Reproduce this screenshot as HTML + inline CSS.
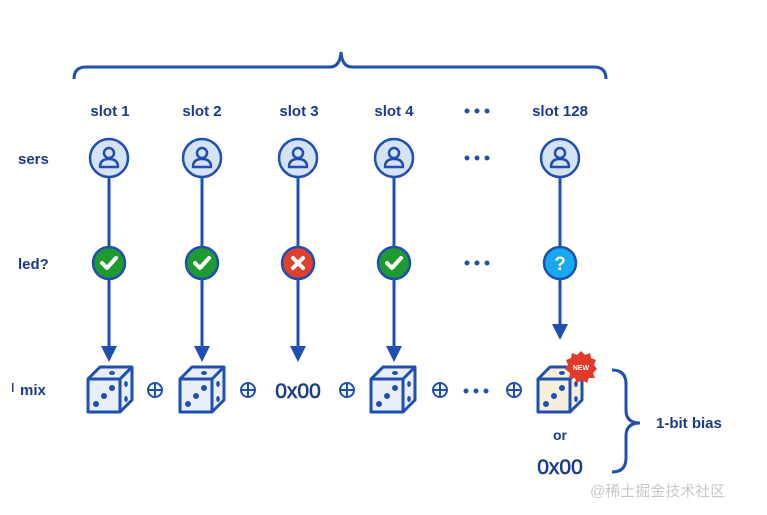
<!DOCTYPE html>
<html><head><meta charset="utf-8"><style>
html,body{margin:0;padding:0;background:#fff;}
svg{display:block;}
text{font-family:"Liberation Sans","Noto Sans CJK SC",sans-serif;fill:#1b3a8c;font-weight:bold;}
</style></head><body>
<svg width="767" height="515" viewBox="0 0 767 515" xmlns="http://www.w3.org/2000/svg">
<defs>
<g id="diebody">
  <path d="M0,10 L32,10 L32,43 L0,43 Z M0,10 L12,-2 L44,-2 L32,10 M32,43 L44,31 L44,-2" fill="none" stroke="#1f4fb0" stroke-width="3" stroke-linejoin="round"/>
  <circle cx="8" cy="35" r="3" fill="#1f4fb0"/><circle cx="16" cy="27" r="3" fill="#1f4fb0"/><circle cx="24" cy="19" r="3" fill="#1f4fb0"/>
  <ellipse cx="24" cy="4" rx="3" ry="2" fill="#1f4fb0"/>
  <ellipse cx="38" cy="15" rx="1.8" ry="3" fill="#1f4fb0"/><ellipse cx="38" cy="30" rx="1.8" ry="3" fill="#1f4fb0"/>
</g>
<g id="die">
  <path d="M0,10 L12,-2 L44,-2 L44,31 L32,43 L0,43 Z" fill="#e8eff9"/>
  <use href="#diebody"/>
</g>
<g id="user">
  <circle r="19" fill="#d6e2f5" stroke="#1f4fb0" stroke-width="2.5"/>
  <circle cx="0" cy="-5" r="5" fill="none" stroke="#1f4fb0" stroke-width="2.5"/>
  <path d="M-9,9 Q-9,1 0,1 Q9,1 9,9 Z" fill="none" stroke="#1f4fb0" stroke-width="2.5" stroke-linejoin="round"/>
</g>
<g id="ok">
  <circle r="16" fill="#1e9a2e" stroke="#1f4fb0" stroke-width="2.5"/>
  <path d="M-7,0 L-2,5 L7,-5" fill="none" stroke="#fff" stroke-width="4" stroke-linecap="round" stroke-linejoin="round"/>
</g>
<g id="plus">
  <circle r="7" fill="none" stroke="#1f4fb0" stroke-width="2"/>
  <path d="M-7,0 H7 M0,-7 V7" stroke="#1f4fb0" stroke-width="2"/>
</g>
</defs>

<path d="M74,79 Q74,67 86,67 L330,67 Q340,67 341,52 Q342,67 352,67 L594,67 Q606,67 606,79" fill="none" stroke="#1f4fb0" stroke-width="3"/>

<g font-size="15" text-anchor="middle">
<text x="110" y="116">slot 1</text>
<text x="202" y="116">slot 2</text>
<text x="299" y="116">slot 3</text>
<text x="394" y="116">slot 4</text>
<text x="560" y="116">slot 128</text>
</g>
<g fill="#1f4fb0">
<circle cx="467" cy="111" r="2.5"/><circle cx="477" cy="111" r="2.5"/><circle cx="487" cy="111" r="2.5"/>
<circle cx="467" cy="158" r="2.5"/><circle cx="477" cy="158" r="2.5"/><circle cx="487" cy="158" r="2.5"/>
<circle cx="467" cy="263" r="2.5"/><circle cx="477" cy="263" r="2.5"/><circle cx="487" cy="263" r="2.5"/>
<circle cx="466" cy="391" r="2.5"/><circle cx="476" cy="391" r="2.5"/><circle cx="486" cy="391" r="2.5"/>
</g>

<text x="18" y="164" font-size="15">sers</text>
<text x="18" y="269" font-size="15">led?</text>
<text x="20" y="395" font-size="15">mix</text>
<rect x="12" y="383" width="1.5" height="9" fill="#1b3a8c"/>

<g stroke="#1f4fb0" stroke-width="3">
<line x1="109" y1="177" x2="109" y2="348"/>
<line x1="202" y1="177" x2="202" y2="348"/>
<line x1="298" y1="177" x2="298" y2="348"/>
<line x1="394" y1="177" x2="394" y2="348"/>
<line x1="560" y1="177" x2="560" y2="325"/>
</g>
<g fill="#1f4fb0">
<path d="M101,346 H117 L109,362 Z"/>
<path d="M194,346 H210 L202,362 Z"/>
<path d="M290,346 H306 L298,362 Z"/>
<path d="M386,346 H402 L394,362 Z"/>
<path d="M552,324 H568 L560,340 Z"/>
</g>

<use href="#user" x="109" y="158"/>
<use href="#user" x="202" y="158"/>
<use href="#user" x="298" y="158"/>
<use href="#user" x="394" y="158"/>
<use href="#user" x="560" y="158"/>

<use href="#ok" x="109" y="263"/>
<use href="#ok" x="202" y="263"/>
<use href="#ok" x="394" y="263"/>
<g transform="translate(298,263)">
  <circle r="16" fill="#e0402e" stroke="#1f4fb0" stroke-width="2.5"/>
  <path d="M-5,-5 L5,5 M5,-5 L-5,5" stroke="#fff" stroke-width="4" stroke-linecap="round"/>
</g>
<g transform="translate(560,263)">
  <circle r="16" fill="#17a8f0" stroke="#1f4fb0" stroke-width="2.5"/>
  <text x="0" y="7" font-size="19" text-anchor="middle" style="fill:#fff">?</text>
</g>

<use href="#die" x="88" y="369"/>
<use href="#die" x="180" y="369"/>
<use href="#die" x="371" y="369"/>
<g transform="translate(538,369)">
  <path d="M0,10 L12,-2 L44,-2 L44,31 L32,43 L0,43 Z" fill="#f5eedb"/>
  <use href="#diebody"/>
</g>
<g transform="translate(581,367)">
  <polygon points="0,-16 4,-12 9,-14 10,-9 15,-7 13,-2 16,2 12,6 14,11 8,11 6,16 1,13 -4,16 -6,11 -12,11 -11,6 -16,2 -13,-2 -15,-7 -10,-9 -9,-14 -4,-12" fill="#e23a2a"/>
  <text x="0" y="3" font-size="7" text-anchor="middle" style="fill:#fff">NEW</text>
</g>

<use href="#plus" x="155" y="390"/>
<use href="#plus" x="248" y="390"/>
<use href="#plus" x="347" y="390"/>
<use href="#plus" x="440" y="390"/>
<use href="#plus" x="514" y="390"/>

<text x="298" y="398" font-size="21" text-anchor="middle" style="font-weight:normal;stroke:#1b3a8c;stroke-width:0.6">0x00</text>
<text x="560" y="440" font-size="14" text-anchor="middle">or</text>
<text x="560" y="474" font-size="21" text-anchor="middle" style="font-weight:normal;stroke:#1b3a8c;stroke-width:0.6">0x00</text>

<path d="M612,370 Q626,370 626,384 L626,410 Q626,423 640,423 Q626,423 626,436 L626,458 Q626,472 612,472" fill="none" stroke="#1f4fb0" stroke-width="3"/>
<text x="656" y="428" font-size="15">1-bit bias</text>

<text x="590" y="496" font-size="15" style="font-weight:normal;fill:#c8c8c8">@稀土掘金技术社区</text>
</svg>
</body></html>
